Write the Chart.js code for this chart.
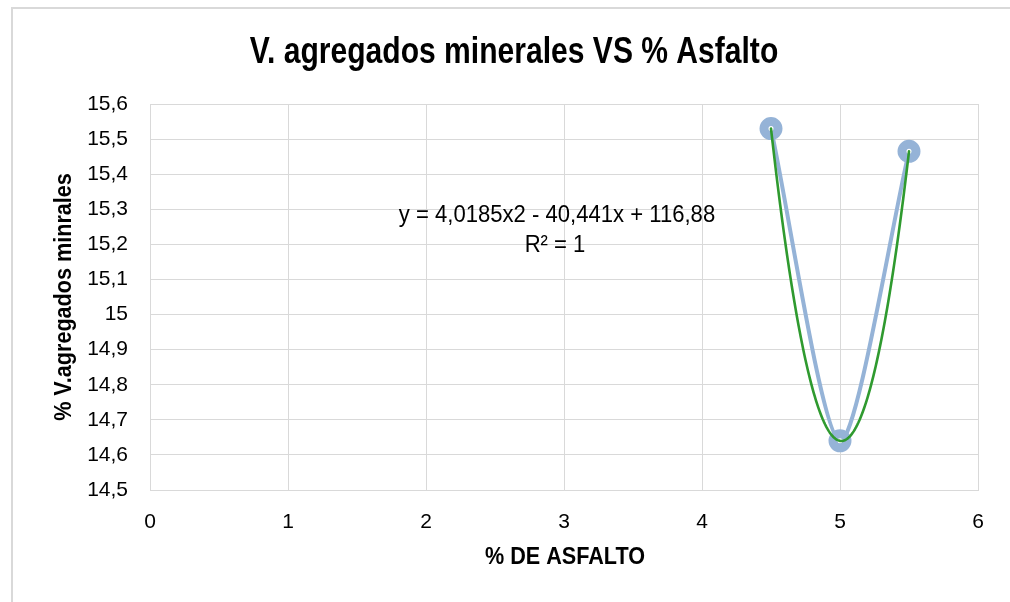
<!DOCTYPE html>
<html>
<head>
<meta charset="utf-8">
<title>V. agregados minerales VS % Asfalto</title>
<script src="https://cdn.jsdelivr.net/npm/chart.js@4.4.1/dist/chart.umd.min.js"></script>
<style>
  html, body { margin: 0; padding: 0; background: #ffffff; }
  #wrap { position: relative; width: 1010px; height: 602px; }
</style>
</head>
<body>
<div id="wrap"><canvas id="chart" width="1010" height="602"></canvas></div>
<script>
// Asphalt content (%) and voids in mineral aggregate (%)
const asfalto = [4.5, 5.0, 5.5];
const vma = [15.53, 14.64, 15.465];

// Axis ticks
const xTicks = [0, 1, 2, 3, 4, 5, 6];
const yTicks = [14.5, 14.6, 14.7, 14.8, 14.9, 15.0, 15.1, 15.2, 15.3, 15.4, 15.5, 15.6];

// Texts
const chartTitle = 'V. agregados minerales VS % Asfalto';
const xTitle = '% DE ASFALTO';
const yTitle = '% V.agregados minrales';
const eqLines = ['y = 4,0185x2 - 40,441x + 116,88', 'R² = 1'];

const FONT = '"Liberation Sans Narrow", "Arial Narrow", "Liberation Sans", Arial, sans-serif';
const GRID = '#d9d9d9';

const fmt = v => String(Math.round(v * 10) / 10).replace('.', ',');

// Least-squares quadratic through the series (polynomial trendline, order 2)
function quadFit(xs, ys) {
  const n = xs.length;
  let s = [0, 0, 0, 0, 0], t = [0, 0, 0];
  for (let i = 0; i < n; i++) {
    for (let k = 0; k < 5; k++) s[k] += Math.pow(xs[i], k);
    for (let k = 0; k < 3; k++) t[k] += ys[i] * Math.pow(xs[i], k);
  }
  const M = [[s[0], s[1], s[2], t[0]], [s[1], s[2], s[3], t[1]], [s[2], s[3], s[4], t[2]]];
  for (let c = 0; c < 3; c++) {
    let p = c;
    for (let r = c + 1; r < 3; r++) if (Math.abs(M[r][c]) > Math.abs(M[p][c])) p = r;
    [M[c], M[p]] = [M[p], M[c]];
    for (let r = 0; r < 3; r++) {
      if (r === c) continue;
      const f = M[r][c] / M[c][c];
      for (let k = c; k < 4; k++) M[r][k] -= f * M[c][k];
    }
  }
  return [M[0][3] / M[0][0], M[1][3] / M[1][1], M[2][3] / M[2][2]];
}
const coef = quadFit(asfalto, vma);

const frame = {
  id: 'frame',
  beforeDraw(chart) {
    const ctx = chart.ctx;
    ctx.save();
    ctx.fillStyle = '#ffffff';
    ctx.fillRect(0, 0, chart.width, chart.height);
    ctx.strokeStyle = GRID;
    ctx.lineWidth = 2;
    ctx.beginPath();
    ctx.moveTo(12, chart.height);
    ctx.lineTo(12, 8);
    ctx.lineTo(chart.width, 8);
    ctx.stroke();
    ctx.restore();
  }
};

const trendline = {
  id: 'trendline',
  afterDatasetsDraw(chart) {
    const ctx = chart.ctx;
    const xs = chart.scales.x, ys = chart.scales.y;
    const x0 = Math.min(...asfalto), x1 = Math.max(...asfalto);
    ctx.save();
    ctx.strokeStyle = '#2f9a2f';
    ctx.lineWidth = 2.6;
    ctx.lineJoin = 'round';
    ctx.lineCap = 'round';
    ctx.beginPath();
    const steps = 120;
    for (let i = 0; i <= steps; i++) {
      const x = x0 + (x1 - x0) * i / steps;
      const y = coef[0] + coef[1] * x + coef[2] * x * x;
      const px = xs.getPixelForValue(x), py = ys.getPixelForValue(y);
      if (i === 0) ctx.moveTo(px, py); else ctx.lineTo(px, py);
    }
    ctx.stroke();
    ctx.restore();
  }
};

// Condensed text: draw with a horizontal squeeze around (x, y)
function narrowText(ctx, text, x, y, font, sx, angle) {
  ctx.save();
  ctx.translate(x, y);
  if (angle) ctx.rotate(angle);
  ctx.scale(sx, 1);
  ctx.font = font;
  ctx.fillText(text, 0, 0);
  ctx.restore();
}

const texts = {
  id: 'texts',
  afterDraw(chart) {
    const ctx = chart.ctx;
    const area = chart.chartArea;
    ctx.save();
    ctx.fillStyle = '#000000';
    ctx.textAlign = 'center';
    ctx.textBaseline = 'middle';

    narrowText(ctx, chartTitle, 514, 53, 'bold 36px ' + FONT, 0.835);
    narrowText(ctx, xTitle, (area.left + area.right) / 2 + 1, 557, 'bold 24px ' + FONT, 0.9);
    narrowText(ctx, yTitle, 64, (area.top + area.bottom) / 2, 'bold 24px ' + FONT, 0.9, -Math.PI / 2);
    narrowText(ctx, eqLines[0], 557, 215, '24px ' + FONT, 0.92);
    narrowText(ctx, eqLines[1], 555, 245, '24px ' + FONT, 0.92);
    ctx.restore();
  }
};

new Chart(document.getElementById('chart'), {
  type: 'scatter',
  data: {
    datasets: [{
      label: '% V.agregados minrales',
      data: asfalto.map((x, i) => ({ x, y: vma[i] })),
      showLine: true,
      borderColor: '#95b3d7',
      borderWidth: 4,
      tension: 0.25,
      pointRadius: 7,
      pointHoverRadius: 7,
      pointBorderWidth: 9,
      pointBackgroundColor: '#ffffff',
      pointBorderColor: '#95b3d7'
    }]
  },
  options: {
    responsive: false,
    animation: false,
    events: [],
    layout: { padding: { top: 104, right: 32, left: 0, bottom: 0 } },
    plugins: {
      legend: { display: false },
      title: { display: false },
      tooltip: { enabled: false }
    },
    scales: {
      x: {
        type: 'linear',
        min: xTicks[0],
        max: xTicks[xTicks.length - 1],
        afterFit(s) { s.height = 112; },
        afterBuildTicks(s) { s.ticks = xTicks.map(v => ({ value: v })); },
        grid: { color: GRID, lineWidth: 1, drawTicks: false },
        border: { color: GRID, width: 1 },
        ticks: {
          padding: 20,
          color: '#000000',
          font: { family: FONT, size: 21 },
          callback: v => fmt(v)
        }
      },
      y: {
        type: 'linear',
        min: yTicks[0],
        max: yTicks[yTicks.length - 1],
        afterFit(s) { s.width = 150; },
        afterBuildTicks(s) { s.ticks = yTicks.map(v => ({ value: v })); },
        grid: { color: GRID, lineWidth: 1, drawTicks: false },
        border: { color: GRID, width: 1 },
        ticks: {
          padding: 22,
          color: '#000000',
          font: { family: FONT, size: 21 },
          callback: v => fmt(v)
        }
      }
    }
  },
  plugins: [frame, trendline, texts]
});
</script>
</body>
</html>
